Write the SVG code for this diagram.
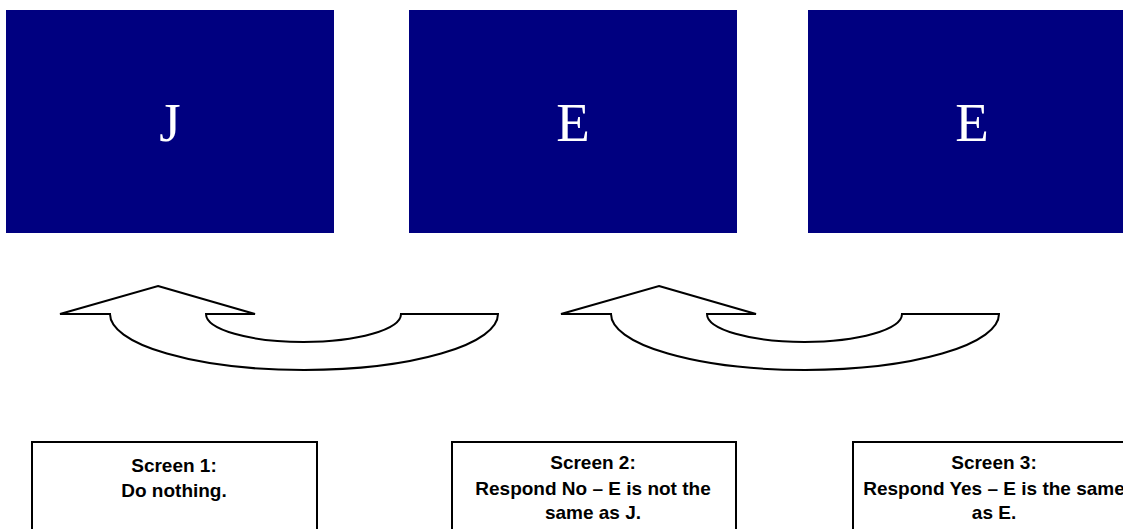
<svg xmlns="http://www.w3.org/2000/svg" width="1123" height="529" viewBox="0 0 1123 529">
<style>
.scr{fill:#000080}
.let{fill:#ffffff;font-family:"Liberation Serif","Times New Roman",serif;font-size:55px;text-anchor:middle}
.arr{fill:#ffffff;stroke:#000000;stroke-width:2;stroke-linejoin:miter}
.box{fill:#ffffff;stroke:#000000;stroke-width:2}
.lbl{fill:#000000;font-family:"Liberation Sans",Arial,sans-serif;font-weight:bold;font-size:19px;text-anchor:middle}
</style>
<rect width="1123" height="529" fill="#ffffff"/>
<g id="screen1"><rect class="scr" x="6" y="10" width="328" height="223"/><text class="let" x="170" y="141">J</text></g>
<g id="screen2"><rect class="scr" x="409" y="10" width="328" height="223"/><text class="let" x="573" y="141">E</text></g>
<g id="screen3"><rect class="scr" x="808" y="10" width="330" height="223"/><text class="let" x="972" y="141">E</text></g>
<g id="connectors">
<path id="arrow1" class="arr" d="M158,286 L255,314 L206,314 A97.5,28 0 0 0 401,314 L498,314 A194,56 0 0 1 110,314 L60,314 Z"/>
<path id="arrow2" class="arr" d="M659,286 L756,314 L707,314 A97.5,28 0 0 0 902,314 L999,314 A194,56 0 0 1 611,314 L561,314 Z"/>
</g>
<g id="label1"><rect class="box" x="32" y="442" width="285" height="100"/>
<text class="lbl" x="174" y="472">Screen 1:</text><text class="lbl" x="174" y="497">Do nothing.</text></g>
<g id="label2"><rect class="box" x="452" y="442" width="284" height="100"/>
<text class="lbl" x="593" y="469">Screen 2:</text><text class="lbl" x="593" y="495">Respond No – E is not the</text><text class="lbl" x="593" y="519">same as J.</text></g>
<g id="label3"><rect class="box" x="853" y="442" width="285" height="100"/>
<text class="lbl" x="994" y="469">Screen 3:</text><text class="lbl" x="994" y="495">Respond Yes – E is the same</text><text class="lbl" x="994" y="519">as E.</text></g>
</svg>
